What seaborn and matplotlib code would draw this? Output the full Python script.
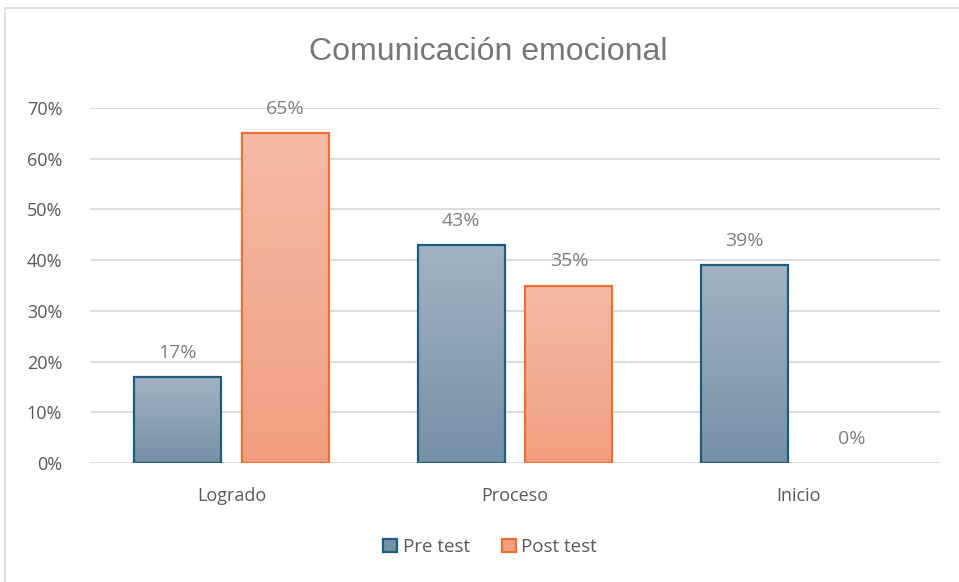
import numpy as np
import pandas as pd
import matplotlib
matplotlib.use("Agg")
import matplotlib.pyplot as plt
import matplotlib.patches as mpatches
from matplotlib.colors import LinearSegmentedColormap
from matplotlib.ticker import PercentFormatter
import seaborn as sns

categories = ["Logrado", "Proceso", "Inicio"]
series = ["Pre test", "Post test"]
pre_test = [0.17, 0.43, 0.39]
post_test = [0.65, 0.35, 0.00]

df = pd.DataFrame({
    "categoria": categories * 2,
    "serie": [series[0]] * 3 + [series[1]] * 3,
    "valor": pre_test + post_test,
})

# top / bottom gradient colours and edge colour per series
grad = {
    "Pre test": ("#A2B3C2", "#7690A6", "#1E5C7E"),
    "Post test": ("#F5BAA5", "#F29E80", "#E97132"),
}

sns.set_theme(style="white")
plt.rcParams["font.family"] = ["Open Sans", "DejaVu Sans"]

fig = plt.figure(figsize=(9.59, 5.82), dpi=100)
ax = fig.add_axes([90 / 959, 1 - 463 / 582, 850 / 959, 355 / 582])

sns.barplot(data=df, x="categoria", y="valor", hue="serie", order=categories,
            hue_order=series, palette=[grad[s][1] for s in series],
            width=0.76, gap=0.19, ax=ax, legend=False, zorder=3)

ax.set_ylim(0, 0.7)
ax.set_xlim(-0.5, 2.5)
ax.yaxis.set_major_formatter(PercentFormatter(1.0, decimals=0))
ax.set_yticks(np.arange(0, 0.71, 0.1))
ax.grid(axis="y", color="#D9D9D9", linewidth=1.3, zorder=0)
ax.set_axisbelow(True)
for sp in ax.spines.values():
    sp.set_visible(False)
ax.tick_params(axis="both", length=0, colors="#595959", labelsize=13)
ax.tick_params(axis="x", pad=17)
ax.tick_params(axis="y", pad=20)
ax.set_xlabel("")
ax.set_ylabel("")

# gradient fill, edge colour and data labels
bars = [p for p in ax.patches if isinstance(p, mpatches.Rectangle)]
n = len(categories)
for i, patch in enumerate(bars[: 2 * n]):
    s = series[i // n]
    top_c, bot_c, edge_c = grad[s]
    x0, y0 = patch.get_x(), patch.get_y()
    w, h = patch.get_width(), patch.get_height()
    val = df["valor"].iloc[i]
    if h > 0:
        cmap = LinearSegmentedColormap.from_list(s, [bot_c, top_c])
        img = ax.imshow(np.linspace(0, 1, 256).reshape(-1, 1), cmap=cmap,
                        extent=[x0, x0 + w, y0, y0 + h], origin="lower",
                        aspect="auto", zorder=3.5)
        img.set_clip_path(patch)
        patch.set_facecolor("none")
        patch.set_edgecolor(edge_c)
        patch.set_linewidth(1.6)
        patch.set_zorder(4)
    else:
        patch.set_visible(False)
    ax.annotate(f"{val:.0%}", (x0 + w / 2, y0 + h), xytext=(0, 11),
                textcoords="offset points", ha="center", va="bottom",
                color="#7F7F7F", fontsize=14)

ax.set_xlim(-0.5, 2.5)
ax.set_ylim(0, 0.7)

fig.text(488 / 959, 1 - 52 / 582, "Comunicación emocional", ha="center",
         va="center", fontsize=23, color="#767676",
         family=["Liberation Sans", "DejaVu Sans"])

handles = [mpatches.Patch(facecolor=grad[s][1], edgecolor=grad[s][2],
                          linewidth=1.6, label=s) for s in series]
fig.legend(handles=handles, loc="center", bbox_to_anchor=(490 / 959, 1 - 547 / 582),
           ncol=2, frameon=False, fontsize=13.5, handlelength=0.75, handleheight=0.75,
           handletextpad=0.3, columnspacing=1.7, labelcolor="#595959")

fig.patches.append(mpatches.Rectangle((5 / 959, -0.01), 2, 1 - 8 / 582 + 0.01,
                                      transform=fig.transFigure, fill=False,
                                      edgecolor="#D9D9D9", linewidth=1.2))

fig.savefig("out.png", dpi=100)
